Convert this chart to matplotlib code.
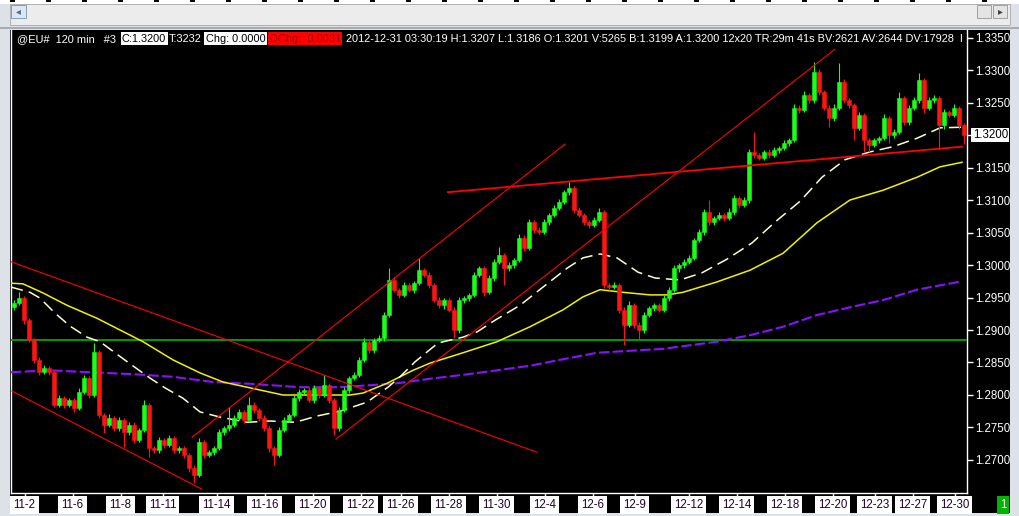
import numpy as np
import matplotlib
matplotlib.use("Agg")
import matplotlib.pyplot as plt
from matplotlib.patches import Rectangle
from matplotlib.transforms import blended_transform_factory

# EUR/USD 120 min, one candle drawn per ~2.5 bars of the original chart
closes = [
    1.2942, 1.2949, 1.2915, 1.2885, 1.2854, 1.2835, 1.2842, 1.2835, 1.2785, 1.2795,
    1.2785, 1.2792, 1.2780, 1.2805, 1.2826, 1.2800, 1.2866, 1.2769, 1.2754, 1.2765,
    1.2749, 1.2762, 1.2743, 1.2754, 1.2731, 1.2746, 1.2785, 1.2718, 1.2715, 1.2731,
    1.2723, 1.2734, 1.2715, 1.2718, 1.2708, 1.2688, 1.2677, 1.2728, 1.2708, 1.2712,
    1.2718, 1.2743, 1.2749, 1.2754, 1.2765, 1.2774, 1.2762, 1.2785, 1.2777, 1.2765,
    1.2749, 1.2718, 1.2708, 1.2746, 1.2762, 1.2769, 1.2795, 1.2805, 1.2808, 1.2792,
    1.2811, 1.2800, 1.2815, 1.2792, 1.2749, 1.2777, 1.2808, 1.2826, 1.2831, 1.2854,
    1.2882, 1.2869, 1.2885, 1.2888, 1.2923, 1.2977, 1.2962, 1.2954, 1.2969, 1.2962,
    1.2972, 1.2992, 1.2985, 1.2969, 1.2946, 1.2938, 1.2946, 1.2931, 1.2900, 1.2946,
    1.2949, 1.2954, 1.2985, 1.2995, 1.2958, 1.2980, 1.3005, 1.3015, 1.2995, 1.3000,
    1.3008, 1.3042, 1.3026, 1.3066, 1.3054, 1.3051, 1.3066, 1.3077, 1.3088, 1.3097,
    1.3112, 1.3118, 1.3085, 1.3077, 1.3066, 1.3062, 1.3069, 1.3082, 1.2969, 1.2966,
    1.2969, 1.2931, 1.2908, 1.2938, 1.2908, 1.2900, 1.2923, 1.2934, 1.2938, 1.2931,
    1.2949, 1.2962, 1.2995, 1.3000, 1.3005, 1.3011, 1.3038, 1.3051, 1.3082, 1.3066,
    1.3072, 1.3077, 1.3072, 1.3082, 1.3103, 1.3092, 1.3100, 1.3174, 1.3169, 1.3165,
    1.3174, 1.3169, 1.3177, 1.3180, 1.3188, 1.3192, 1.3242, 1.3238, 1.3262, 1.3254,
    1.3297, 1.3266, 1.3242, 1.3226, 1.3242, 1.3282, 1.3254, 1.3246, 1.3211, 1.3231,
    1.3192, 1.3185, 1.3192, 1.3195, 1.3226, 1.3200, 1.3205, 1.3257, 1.3220, 1.3242,
    1.3254, 1.3285, 1.3242, 1.3254, 1.3257, 1.3215, 1.3235, 1.3231, 1.3242, 1.3215,
    1.3200,
]
first_open = 1.2935

# wick lengths above / below the body, in pips
upper_wick = [
    4, 9, 3, 4, 3, 5, 4, 3, 4, 5,
    3, 4, 3, 5, 4, 3, 14, 3, 4, 5,
    3, 4, 3, 5, 4, 3, 8, 3, 4, 5,
    3, 4, 3, 4, 3, 3, 4, 6, 3, 4,
    3, 5, 4, 28, 4, 5, 3, 12, 4, 3,
    4, 3, 4, 5, 4, 3, 5, 4, 3, 5,
    4, 3, 16, 4, 3, 5, 4, 3, 5, 4,
    6, 4, 3, 5, 4, 18, 4, 3, 5, 4,
    4, 19, 3, 4, 3, 5, 4, 3, 4, 5,
    4, 3, 5, 4, 3, 5, 4, 13, 3, 4,
    3, 5, 4, 5, 3, 4, 5, 3, 4, 5,
    4, 10, 3, 4, 3, 4, 5, 6, 3, 4,
    5, 3, 4, 6, 3, 4, 5, 3, 4, 3,
    5, 4, 5, 3, 4, 5, 4, 5, 4, 18,
    3, 4, 3, 5, 4, 3, 5, 4, 31, 4,
    3, 4, 5, 3, 4, 3, 5, 4, 6, 3,
    15, 4, 3, 4, 5, 29, 4, 3, 4, 5,
    3, 4, 3, 4, 6, 3, 4, 9, 3, 4,
    5, 10, 3, 4, 5, 3, 5, 4, 6, 3,
    3,
]
lower_wick = [
    4, 3, 5, 4, 5, 4, 3, 5, 4, 3,
    5, 4, 6, 3, 4, 5, 3, 4, 12, 4,
    5, 4, 23, 4, 5, 4, 3, 14, 4, 5,
    4, 3, 5, 4, 5, 6, 12, 3, 5, 4,
    4, 3, 5, 4, 3, 4, 5, 3, 4, 5,
    4, 5, 16, 4, 3, 4, 3, 5, 4, 3,
    4, 5, 3, 4, 11, 4, 3, 5, 3, 4,
    3, 5, 4, 3, 5, 3, 4, 5, 3, 4,
    5, 3, 4, 5, 3, 4, 5, 4, 12, 4,
    5, 4, 3, 4, 5, 3, 4, 3, 26, 4,
    5, 3, 4, 3, 5, 4, 3, 4, 3, 4,
    3, 4, 5, 3, 4, 5, 4, 3, 5, 4,
    3, 5, 31, 4, 5, 15, 4, 3, 5, 4,
    3, 4, 3, 5, 4, 3, 4, 3, 5, 4,
    5, 3, 4, 3, 5, 4, 3, 5, 4, 3,
    4, 5, 3, 4, 3, 5, 3, 4, 3, 5,
    4, 5, 3, 14, 4, 3, 5, 4, 18, 4,
    18, 11, 4, 5, 3, 12, 4, 3, 5, 4,
    3, 4, 8, 3, 4, 38, 5, 4, 3, 5,
    14,
]

# date ticks (position in candle units)
tick_pos = [2.1, 11.7, 21.3, 29.7, 40.5, 50.1, 59.7, 69.3, 77.3, 86.9, 96.5,
            106.1, 115.7, 124.1, 134.9, 144.5, 154.1, 163.7, 172.1, 179.7, 188.1]
tick_labels = ["11-2", "11-6", "11-8", "11-11", "11-14", "11-16", "11-20", "11-22",
               "11-26", "11-28", "11-30", "12-4", "12-6", "12-9", "12-12", "12-14",
               "12-18", "12-20", "12-23", "12-27", "12-30"]

# moving averages
ma_slow_x = [-0.6, 1.8, 5.8, 10.6, 16.6, 21.2, 25.8, 31.8, 37.2, 41.8, 47.2, 53.8,
             60.6, 67.2, 69.8, 74.6, 79.8, 83.2, 89.8, 96.6, 103.2, 109.8, 113.8,
             117.2, 121.8, 127.2, 130.6, 133.8, 140.6, 147.2, 153.8, 160.6, 167.2,
             173.8, 180.6, 185.2, 189.6]
ma_slow_y = [1.2972, 1.2971, 1.2957, 1.2938, 1.2918, 1.2900, 1.2882, 1.2854, 1.2834,
             1.2820, 1.2811, 1.2800, 1.2800, 1.2800, 1.2803, 1.2818, 1.2838, 1.2849,
             1.2865, 1.2882, 1.2905, 1.2931, 1.2951, 1.2962, 1.2958, 1.2954, 1.2954,
             1.2958, 1.2974, 1.2992, 1.3018, 1.3065, 1.3100, 1.3115, 1.3135, 1.3151,
             1.3158]
ma_fast_x = [-0.6, 3.2, 5.2, 8.2, 11.2, 14.6, 17.2, 20.2, 23.2, 27.2, 30.2, 33.8,
             37.2, 41.2, 46.6, 51.2, 56.2, 60.8, 65.2, 70.6, 74.8, 77.2, 80.2, 84.8,
             89.8, 92.6, 96.2, 101.2, 105.8, 110.6, 113.8, 117.2, 120.6, 124.8, 128.2,
             133.2, 137.6, 142.6, 147.6, 152.2, 157.2, 161.6, 166.2, 171.2, 175.8,
             180.6, 185.2, 189.6]
ma_fast_y = [1.2966, 1.2958, 1.2949, 1.2926, 1.2906, 1.2889, 1.2882, 1.2865, 1.2848,
             1.2826, 1.2811, 1.2795, 1.2774, 1.2766, 1.2758, 1.2760, 1.2758, 1.2768,
             1.2775, 1.2789, 1.2812, 1.2828, 1.2851, 1.2880, 1.2889, 1.2897, 1.2915,
             1.2938, 1.2966, 1.2995, 1.3011, 1.3017, 1.3011, 1.2989, 1.2980, 1.2977,
             1.2988, 1.3009, 1.3034, 1.3066, 1.3098, 1.3135, 1.3162, 1.3174, 1.3182,
             1.3195, 1.3211, 1.3212]
ma_long_x = [-0.6, 7.2, 15.2, 23.8, 31.8, 39.8, 47.8, 57.2, 65.2, 76.6, 83.2, 89.8,
             96.6, 103.2, 109.8, 116.6, 123.2, 129.8, 140.6, 147.2, 153.8, 160.6,
             167.2, 173.8, 180.6, 189.6]
ma_long_y = [1.2835, 1.2838, 1.2835, 1.2832, 1.2828, 1.2820, 1.2817, 1.2812, 1.2812,
             1.2818, 1.2825, 1.2831, 1.2838, 1.2845, 1.2855, 1.2865, 1.2868, 1.2871,
             1.2882, 1.2892, 1.2905, 1.2923, 1.2935, 1.2946, 1.2962, 1.2975]

# hand drawn trend lines: (x0, x1), (p0, p1)
trend_x = [(-0.6, 104.6), (-0.4, 37.6), (35.6, 110.2), (64.4, 164.2), (86.8, 189.6)]
trend_y = [(1.3005, 1.2712), (1.2806, 1.2655), (1.2735, 1.3186), (1.2732, 1.3332),
           (1.3112, 1.3182)]
support_level = 1.2885
last_price = 1.3200

price_ticks = [1.2700, 1.2750, 1.2800, 1.2850, 1.2900, 1.2950, 1.3000, 1.3050,
               1.3100, 1.3150, 1.3200, 1.3250, 1.3300, 1.3350]

# header / status line pieces
header_plain = "@EU#  120 min   #3"
header_close = "C:1.3200"
header_ticks = "T:3232"
header_chg = "Chg: 0.0000"
header_dchg = "DChg: -0.0031"
header_rest = ("2012-12-31 03:30:19 H:1.3207 L:1.3186 O:1.3201 V:5265 "
               "B:1.3199 A:1.3200 12x20 TR:29m 41s BV:2621 AV:2644 DV:17928  I")

W, H = 1020, 516
fig = plt.figure(figsize=(W / 100, H / 100), dpi=100)
fig.patch.set_facecolor("#dde2e8")
plt.rcParams["font.family"] = ["Liberation Sans", "DejaVu Sans"]


def fx(px):
    return px / W


def fy(py):
    return 1 - py / H


def frect(x0, y0, x1, y1, **kw):
    r = Rectangle((fx(x0), fy(y1)), fx(x1 - x0), (y1 - y0) / H,
                  transform=fig.transFigure, **kw)
    fig.add_artist(r)
    return r


# window chrome
frect(10, 30, 1010, 513, facecolor="black", edgecolor="none", zorder=0)
frect(0, 0, W, 4, facecolor="white", edgecolor="none", zorder=0)
for tx in range(10, 1000, 36):
    frect(tx, 0, tx + 5, 2, facecolor="black", edgecolor="none", zorder=1)
frect(10, 4, 1010, 25, facecolor="#ececec", edgecolor="#b0b0b0", lw=0.7, zorder=0)
frect(11, 5, 26, 18, facecolor="#dbe6f2", edgecolor="#7f9db9", lw=0.7, zorder=1)
fig.text(fx(18.5), fy(11.5), "\u25c2", color="#4a6a90", fontsize=7,
         ha="center", va="center", family="DejaVu Sans")
frect(977, 5, 991, 18, facecolor="#e4e4e4", edgecolor="#a0a0a0", lw=0.7, zorder=1)
frect(993, 5, 1007, 18, facecolor="#e4e4e4", edgecolor="#a0a0a0", lw=0.7, zorder=1)
fig.text(fx(1000), fy(11.5), "\u25b8", color="#404040", fontsize=7,
         ha="center", va="center", family="DejaVu Sans")
frect(0, 27, W, 29, facecolor="#a8acb0", edgecolor="none", zorder=0)

ax = fig.add_axes([fx(11), 23 / H, fx(956), 463 / H])
ax.set_facecolor("black")
ax.set_zorder(2)

x = np.arange(len(closes))
c = np.array(closes)
o = np.array([first_open] + closes[:-1])
hi = np.maximum(o, c) + np.array(upper_wick) / 10000
lo = np.minimum(o, c) - np.array(lower_wick) / 10000
up = c >= o
col = np.where(up, "#19ff19", "#ff1414")

ax.vlines(x, lo, hi, colors=col, lw=0.8, zorder=4)
body = np.maximum(np.abs(c - o), 0.00008)
ax.bar(x, body, bottom=np.minimum(o, c), width=0.62, color=col,
       edgecolor=col, lw=0.4, zorder=5)

ax.axhline(support_level, color="#00a800", lw=1.3, zorder=3)

ax.plot(ma_long_x, ma_long_y, color="#8a10ff", lw=1.5,
        linestyle=(0, (5, 1.6)), zorder=3)
ax.plot(ma_slow_x, ma_slow_y, color="#f2f200", lw=1.1, zorder=3)
ax.plot(ma_fast_x, ma_fast_y, color="#ffffc8", lw=1.1,
        linestyle=(0, (8, 4)), zorder=3)

for (x0, x1), (p0, p1) in zip(trend_x, trend_y):
    lw = 1.3 if abs(p1 - p0) < 0.01 else 0.8
    ax.plot([x0, x1], [p0, p1], color="#ff0000", lw=lw, zorder=6)

ax.set_xlim(-0.6, 190.6)
ax.set_ylim(1.264923, 1.336154)

for side in ["left", "right", "bottom"]:
    ax.spines[side].set_color("white")
    ax.spines[side].set_linewidth(1)
ax.spines["top"].set_visible(False)

ax.yaxis.tick_right()
ax.set_yticks(price_ticks)
ax.set_yticklabels(["" if abs(p - last_price) < 1e-9 else f"{p:.4f}" for p in price_ticks])
ax.tick_params(axis="y", colors="white", labelcolor="white", length=4,
               width=1, pad=2, labelsize=8.3)
ax.set_xticks(tick_pos)
ax.set_xticklabels([])
ax.tick_params(axis="x", colors="white", length=4, width=1)

ytr = blended_transform_factory(ax.transAxes, ax.transData)
ax.text(1.006, last_price, f"{last_price:.4f}", transform=ytr, color="black",
        fontsize=8.3, va="center", ha="left", clip_on=False, zorder=10,
        bbox=dict(boxstyle="square,pad=0.12", fc="white", ec="none"))

xtr = blended_transform_factory(ax.transData, ax.transAxes)
for p, lab in zip(tick_pos, tick_labels):
    ax.text(p, -0.026, lab, transform=xtr, color="#200028", fontsize=8.3,
            ha="center", va="center", clip_on=False,
            bbox=dict(boxstyle="square,pad=0.28", fc="white", ec="none"))

# header line
hy = 0.981
hs = 7.9
ax.text(0.0063, hy, header_plain, transform=ax.transAxes, color="white",
        fontsize=hs, va="center", zorder=10)
ax.text(0.1160, hy, header_close, transform=ax.transAxes, color="black",
        fontsize=hs, va="center", zorder=10,
        bbox=dict(boxstyle="square,pad=0.12", fc="white", ec="none"))
ax.text(0.1650, hy, header_ticks, transform=ax.transAxes, color="white",
        fontsize=hs, va="center", zorder=10)
ax.text(0.2035, hy, header_chg, transform=ax.transAxes, color="black",
        fontsize=hs, va="center", zorder=10,
        bbox=dict(boxstyle="square,pad=0.12", fc="white", ec="none"))
ax.text(0.2705, hy, header_dchg, transform=ax.transAxes, color="#a80000",
        fontsize=hs, va="center", zorder=10,
        bbox=dict(boxstyle="square,pad=0.12", fc="#ff0000", ec="none"))
ax.text(0.3505, hy, header_rest, transform=ax.transAxes, color="white",
        fontsize=hs, va="center", clip_on=True, zorder=10)

fig.text(fx(1003), fy(505), "1", color="white", fontsize=8.3, ha="center",
         va="center", bbox=dict(boxstyle="square,pad=0.25", fc="#00b400", ec="none"))

fig.savefig("out.png", dpi=100, facecolor=fig.get_facecolor())
